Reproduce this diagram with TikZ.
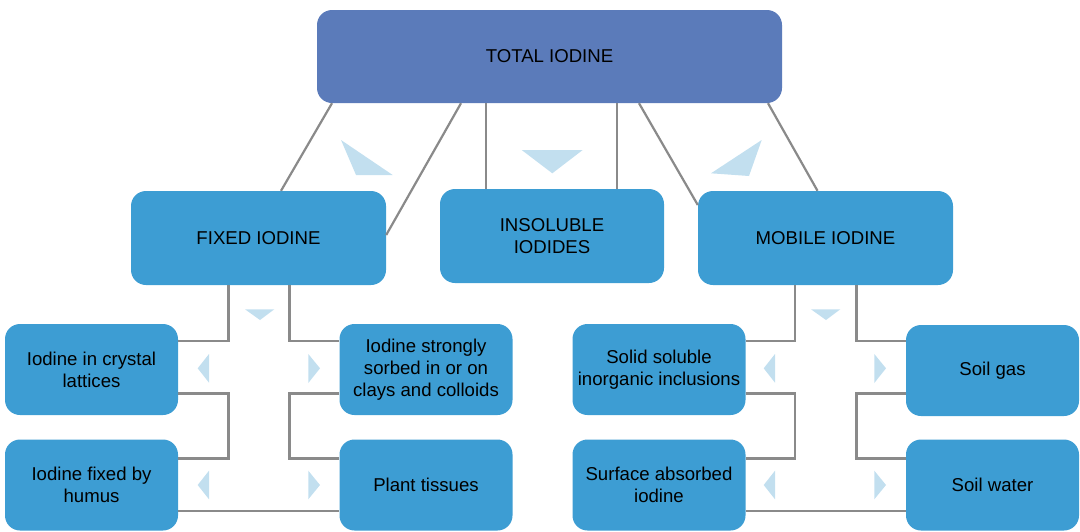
\documentclass[tikz,border=0pt]{standalone}
\usepackage{fontspec}
\setmainfont{Liberation Sans}
\usetikzlibrary{calc}

\definecolor{totalblue}{HTML}{5B7BBA}
\definecolor{boxblue}{HTML}{3D9DD3}
\definecolor{paleblue}{HTML}{C2DFEF}
\definecolor{linkgray}{HTML}{8A8A8A}

\tikzset{
  link/.style={draw=linkgray, line width=2.2pt},
  tri/.style={fill=paleblue},
  midbox/.style={fill=boxblue, minimum height=94pt},
  leafbox/.style={fill=boxblue, minimum width=173pt, minimum height=91pt}
}

\begin{document}
\begin{tikzpicture}[x=1pt,y=-1pt]
      \useasboundingbox (0,0) rectangle (1080,531);

      \begin{scope}[every node/.style={rectangle, rounded corners=15pt, inner sep=0pt, align=center, font=\fontsize{18.6}{21.7}\selectfont}]
        \node[fill=totalblue, minimum width=465pt, minimum height=93pt] (total) at (549.5,56.5) {TOTAL IODINE};

        \node[midbox, minimum width=255pt] (fixed)  at (258.5,238) {FIXED IODINE};
        \node[midbox, minimum width=224pt] (insol)  at (552,236)   {INSOLUBLE\\IODIDES};
        \node[midbox, minimum width=255pt] (mobile) at (825.5,238) {MOBILE IODINE};

        \node[leafbox] (crystal)   at (91.5,369.5)  {Iodine in crystal\\lattices};
        \node[leafbox] (humus)     at (91.5,485)    {Iodine fixed by\\humus};
        \node[leafbox] (strongly)  at (426,369.5)   {Iodine strongly\\sorbed in or on\\clays and colloids};
        \node[leafbox] (plant)     at (426,485)     {Plant tissues};
        \node[leafbox] (solid)     at (659,369.5)   {Solid soluble\\inorganic inclusions};
        \node[leafbox] (surface)   at (659,485)     {Surface absorbed\\iodine};
        \node[leafbox] (soilgas)   at (992.5,370.5) {Soil gas};
        \node[leafbox] (soilwater) at (992.5,485)   {Soil water};
      \end{scope}

      % total -> middle row
      \draw[link] ([xshift=-217.5pt]total.south) -- ([xshift=22.5pt]fixed.north);
      \draw[link] ([xshift=-88.5pt]total.south) -- ([yshift=3pt]fixed.east);
      \draw[link] ($(insol.north)+(-66,0)$) -- ($(insol.north |- total.south)+(-66,0)$);
      \draw[link] ($(insol.north)+(65,0)$) -- ($(insol.north |- total.south)+(65,0)$);
      \draw[link] ([xshift=89.5pt]total.south) -- ([yshift=33pt]mobile.west);
      \draw[link] ([xshift=218.5pt]total.south) -- ([xshift=-8pt]mobile.north);

      % fixed iodine group
      \coordinate (fixL) at ([xshift=-30pt]fixed.south);
      \coordinate (fixR) at ([xshift=31pt]fixed.south);
      \draw[link] (fixL) |- ([yshift=28.5pt]crystal.east);
      \draw[link] (fixR) |- ([yshift=28.5pt]strongly.west);
      \draw[link] ([yshift=-24pt]crystal.east) -| ($(fixL |- humus.east)+(0,-26.5)$) -- ([yshift=26.5pt]humus.east);
      \draw[link] ([yshift=-24pt]strongly.west) -| ($(fixR |- plant.west)+(0,-26.5)$) -- ([yshift=26.5pt]plant.west);
      \draw[link] ([yshift=-26pt]humus.east) -- ([yshift=-26pt]plant.west);

      % mobile iodine group
      \coordinate (mobL) at ([xshift=-30.5pt]mobile.south);
      \coordinate (mobR) at ([xshift=31pt]mobile.south);
      \draw[link] (mobL) |- ([yshift=28.5pt]solid.east);
      \draw[link] (mobR) |- ($(soilgas.west)+(0,-29.5)$);
      \draw[link] ([yshift=-24pt]solid.east) -| ($(mobL |- surface.east)+(0,-26.5)$) -- ([yshift=26.5pt]surface.east);
      \draw[link] ($(soilgas.west)+(0,23)$) -| ($(mobR |- soilwater.west)+(0,-26.5)$) -- ([yshift=26.5pt]soilwater.west);
      \draw[link] ([yshift=-26pt]surface.east) -- ([yshift=-26pt]soilwater.west);

      % pale arrow heads
      \fill[tri] (341,140) -- (392.7,175) -- (356,175) -- cycle;
      \fill[tri] (521.7,150) -- (582.7,150) -- (552.3,173.3) -- cycle;
      \fill[tri] (761.7,140) -- (749,176) -- (711,173.3) -- cycle;

      \fill[tri] (245,309.3) -- (274.3,309.3) -- (260,320) -- cycle;
      \fill[tri] (209,354) -- (209,382.7) -- (197.7,368.3) -- cycle;
      \fill[tri] (308.3,354) -- (308.3,383) -- (320,368.3) -- cycle;
      \fill[tri] (209,470.7) -- (209,499.3) -- (197.7,485) -- cycle;
      \fill[tri] (308.3,470.7) -- (308.3,499.3) -- (320,485) -- cycle;

      \fill[tri] (811,309.3) -- (840.3,309.3) -- (826,320) -- cycle;
      \fill[tri] (775,354) -- (775,382.7) -- (763.7,368.3) -- cycle;
      \fill[tri] (874.3,354) -- (874.3,383) -- (886,368.3) -- cycle;
      \fill[tri] (775,470.7) -- (775,499.3) -- (763.7,485) -- cycle;
      \fill[tri] (874.3,470.7) -- (874.3,499.3) -- (886,485) -- cycle;

    \end{tikzpicture}
\end{document}
